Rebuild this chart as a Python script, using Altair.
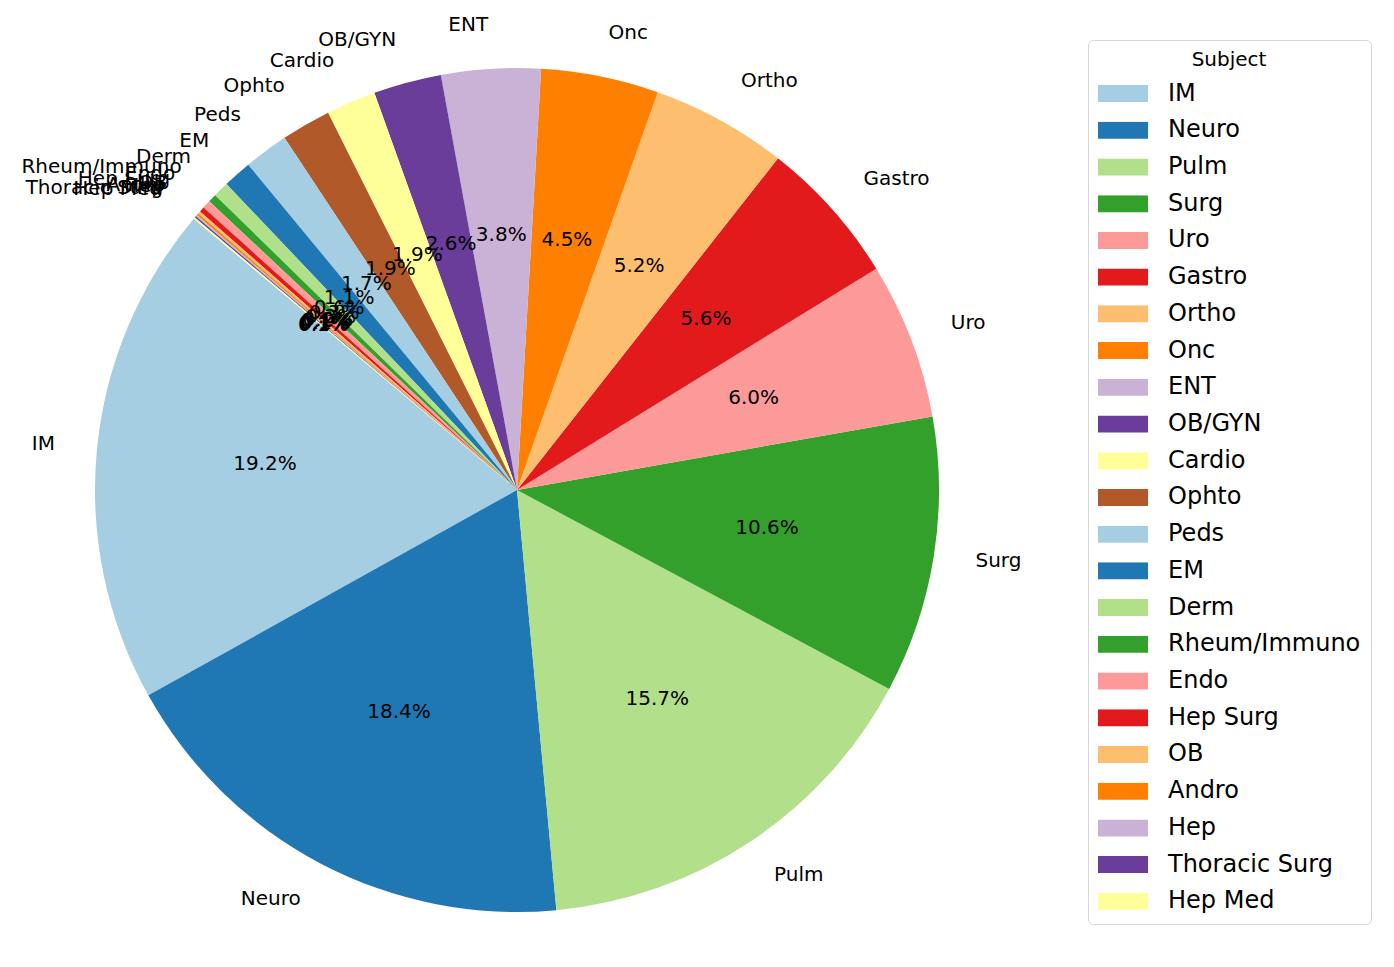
import altair as alt
import pandas as pd

# slices in matplotlib order (counter-clockwise from 140 deg)
subjects = [
    "IM", "Neuro", "Pulm", "Surg", "Uro", "Gastro", "Ortho", "Onc", "ENT",
    "OB/GYN", "Cardio", "Ophto", "Peds", "EM", "Derm", "Rheum/Immuno", "Endo",
    "Hep Surg", "OB", "Andro", "Hep", "Thoracic Surg", "Hep Med",
]
shares = [
    19.2, 18.4, 15.7, 10.6, 6.0, 5.6, 5.2, 4.5, 3.8,
    2.6, 1.9, 1.9, 1.7, 1.1, 0.6, 0.32, 0.32,
    0.2, 0.1, 0.08, 0.06, 0.06, 0.06,
]
paired = [
    "#a6cee3", "#1f78b4", "#b2df8a", "#33a02c", "#fb9a99", "#e31a1c",
    "#fdbf6f", "#ff7f00", "#cab2d6", "#6a3d9a", "#ffff99", "#b15928",
]
palette = (paired * 2)[: len(subjects)]

FONT = "DejaVu Sans"
CX, CY, R = 509, 482, 422
START = "(-50 * PI / 180)"

df = pd.DataFrame({"subject": subjects, "share": shares, "idx": range(len(subjects))})

# vega angles run clockwise from north, so stack the slices in reverse order
base = (
    alt.Chart(df)
    .transform_joinaggregate(total="sum(share)")
    .transform_window(
        cum="sum(share)",
        sort=[alt.SortField("idx", order="descending")],
        frame=[None, 0],
    )
    .transform_calculate(
        t1=f"{START} + 2 * PI * datum.cum / datum.total",
        t0="datum.t1 - 2 * PI * datum.share / datum.total",
        tm="(datum.t0 + datum.t1) / 2",
        pct="format(100 * datum.share / datum.total, '.1f') + '%'",
    )
)

pie = base.mark_arc(outerRadius=R, strokeWidth=0).encode(
    x=alt.value(CX),
    y=alt.value(CY),
    theta=alt.Theta("t0:Q", scale=None),
    theta2="t1:Q",
    color=alt.Color(
        "subject:N",
        scale=alt.Scale(domain=subjects, range=palette),
        legend=alt.Legend(
            title="Subject",
            orient="none",
            legendX=1080,
            legendY=32,
            titleFont=FONT,
            titleFontSize=20,
            titleFontWeight="normal",
            titleColor="black",
            titleAnchor="middle",
            titlePadding=15,
            labelFont=FONT,
            labelFontSize=24,
            labelColor="black",
            labelOffset=20,
            labelLimit=400,
            symbolType="M-1,-0.34L1,-0.34L1,0.34L-1,0.34Z",
            symbolSize=2500,
            symbolStrokeWidth=0,
            symbolOpacity=1,
            clipHeight=17,
            rowPadding=11.72,
            padding=10,
            strokeColor="#d6d6d6",
            cornerRadius=5,
            fillColor="white",
        ),
    ),
)

text_style = dict(font=FONT, fontSize=20, color="black", baseline="middle", dy=-2)
pos = dict(x=alt.value(CX), y=alt.value(CY))

names_right = base.transform_filter("sin(datum.tm) > 0").mark_text(
    radius=R * 1.1, align="left", **text_style
).encode(theta=alt.Theta("tm:Q", scale=None), text="subject:N", **pos)

names_left = base.transform_filter("sin(datum.tm) <= 0").mark_text(
    radius=R * 1.1, align="right", **text_style
).encode(theta=alt.Theta("tm:Q", scale=None), text="subject:N", **pos)

pcts = base.mark_text(radius=R * 0.6, align="center", **text_style).encode(
    theta=alt.Theta("tm:Q", scale=None), text="pct:N", **pos
)

chart = (
    alt.layer(pie, names_right, names_left, pcts)
    .properties(
        width=1370,
        height=945,
        padding=0,
        autosize=alt.AutoSizeParams(type="none"),
    )
    .configure_view(stroke=None)
)

chart.save("out.html", embed_options={"renderer": "svg", "actions": False})
